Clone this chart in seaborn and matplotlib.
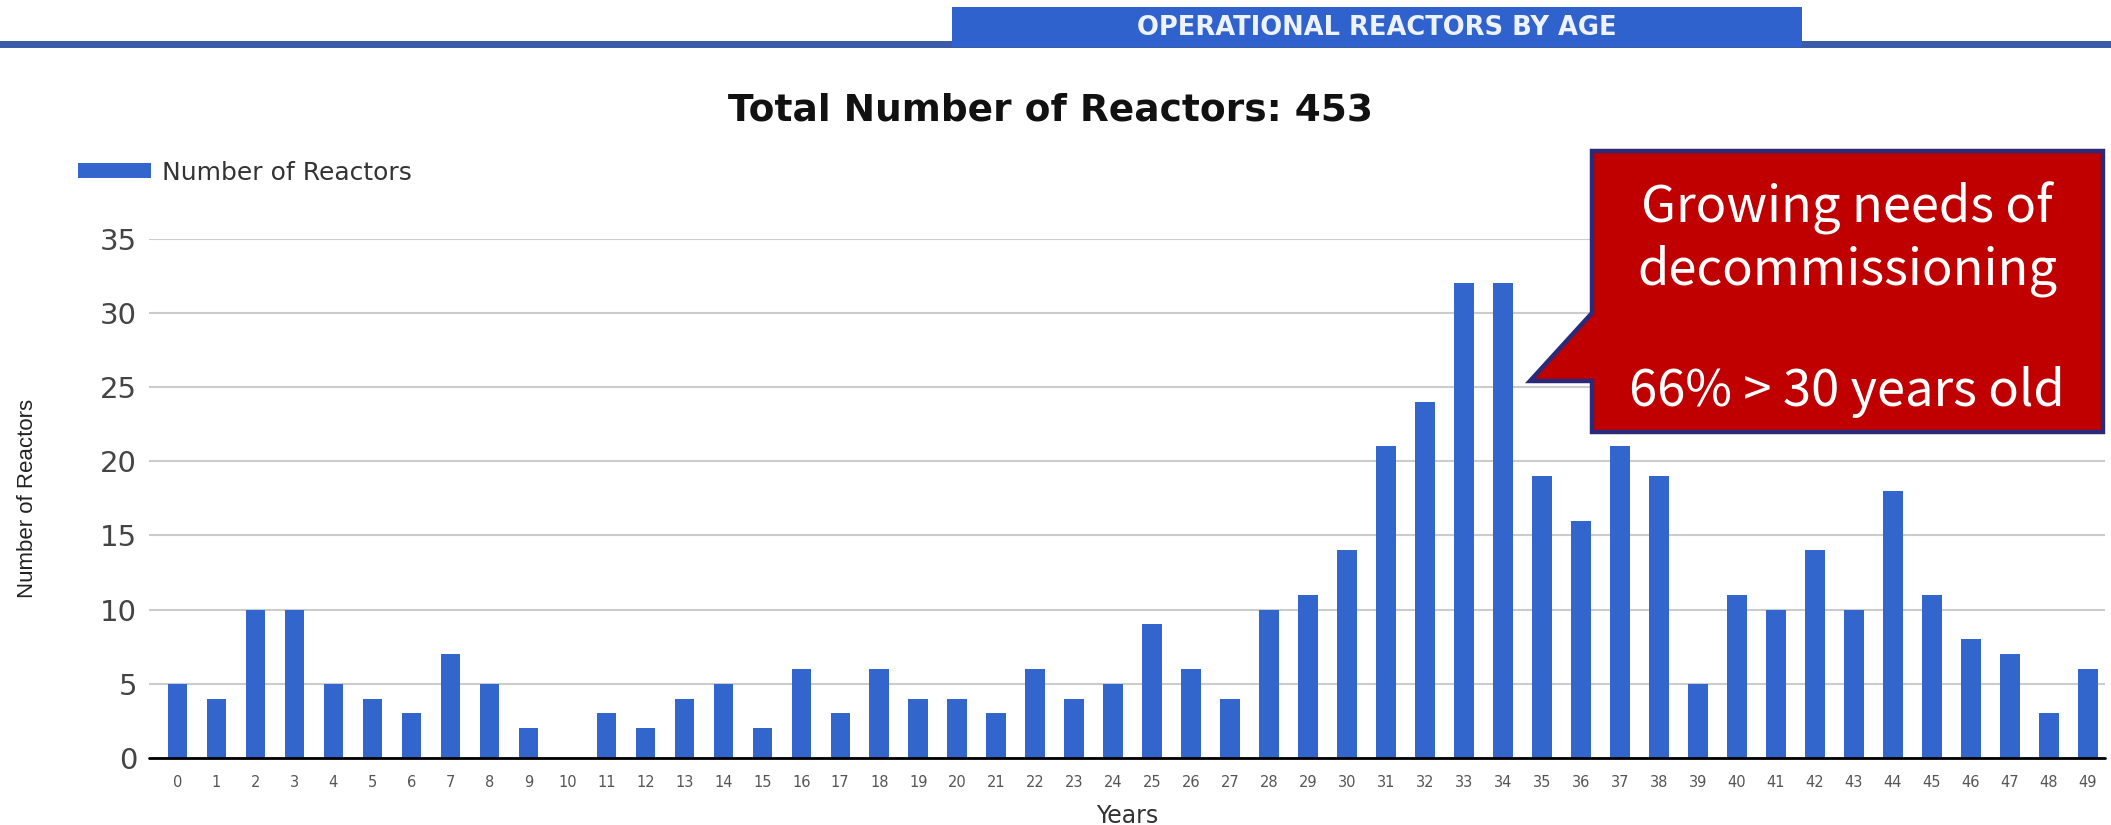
import matplotlib.pyplot as plt
import matplotlib.patches as mpatches
import pandas as pd
import seaborn as sns

# ages 0..49 and how many operating reactors have that age
years = list(range(50))
reactors = [5, 4, 10, 10, 5, 4, 3, 7, 5, 2,
            0, 3, 2, 4, 5, 2, 6, 3, 6, 4,
            4, 3, 6, 4, 5, 9, 6, 4, 10, 11,
            14, 21, 24, 32, 32, 19, 16, 21, 19, 5,
            11, 10, 14, 10, 18, 11, 8, 7, 3, 6]
y_ticks = [0, 5, 10, 15, 20, 25, 30, 35]
banner_text = 'OPERATIONAL REACTORS BY AGE'
title_text = 'Total Number of Reactors: 453'
series_name = 'Number of Reactors'
x_name = 'Years'
callout_text = 'Growing needs of\ndecommissioning\n\n66% > 30 years old'

sns.set_theme(style='white')
plt.rcParams['font.family'] = ['DejaVu Sans']

W, H = 2111, 825
fig = plt.figure(figsize=(W / 100, H / 100), dpi=100)
fig.patch.set_facecolor('white')
ax = fig.add_axes([149 / W, 1 - 758 / H, 1956 / W, 519.5 / H])

df = pd.DataFrame({x_name: years, series_name: reactors})
sns.barplot(data=df, x=x_name, y=series_name, color='#3366CC', saturation=1,
            width=0.5, linewidth=0, label=series_name, ax=ax)

ax.set_xlim(-0.73, 49.44)
ax.set_ylim(0, 35)
ax.set_yticks(y_ticks)
ax.yaxis.grid(True, color='#cccccc', lw=1.5)
ax.set_axisbelow(True)
sns.despine(ax=ax, left=True, bottom=True)
ax.axhline(0, color='black', lw=2, clip_on=False, zorder=3)
ax.tick_params(axis='y', length=0, pad=8.6, labelsize=21, labelcolor='#444444')
ax.tick_params(axis='x', length=0, pad=12, labelsize=10.5, labelcolor='#555555')

ax.set_ylabel(series_name, fontsize=16, family='Liberation Sans', color='#222222')
ax.yaxis.set_label_coords(-0.0565, 0.5)
ax.set_xlabel(x_name, fontsize=17, color='#333333')
ax.xaxis.set_label_coords(0.5, -0.088)

leg = ax.legend(loc='center left', bbox_to_anchor=(78 / W, 1 - 172.5 / H),
                bbox_transform=fig.transFigure, frameon=False, fontsize=18,
                handlelength=2.92, handleheight=0.52, handletextpad=0.44,
                borderpad=0, borderaxespad=0)
for t in leg.get_texts():
    t.set_color('#333333')

# header strip and banner
fig.add_artist(mpatches.Rectangle((0, 1 - 47.5 / H), 1, 6 / H, transform=fig.transFigure,
                                  color='#3B5BA8', lw=0))
fig.add_artist(mpatches.Rectangle((952 / W, 1 - 47 / H), 850 / W, 40 / H,
                                  transform=fig.transFigure, color='#2F62CC', lw=0))
fig.text(1377 / W, 1 - 35 / H, banner_text, ha='center', va='baseline',
         fontsize=18.5, fontweight='bold', color='#eef2fb')

fig.text(1050.5 / W, 1 - 120.7 / H, title_text, ha='center', va='baseline',
         fontsize=27, fontweight='bold', color='#111111')

# speech-bubble callout
pts = [(1592, 151), (2103, 151), (2103, 432), (1592, 432), (1592, 381),
       (1530, 381), (1592, 313)]
fig.add_artist(mpatches.Polygon([(x / W, 1 - y / H) for x, y in pts], closed=True,
                                transform=fig.transFigure, facecolor='#C00000',
                                edgecolor='#2B2A78', lw=3.2, joinstyle='miter'))
fig.text(1847 / W, 1 - 300 / H, callout_text, ha='center', va='center',
         fontsize=36.5, color='white', linespacing=1.22, multialignment='center',
         family=['Noto Sans CJK JP', 'DejaVu Sans'])

fig.savefig('out.png', dpi=100)
